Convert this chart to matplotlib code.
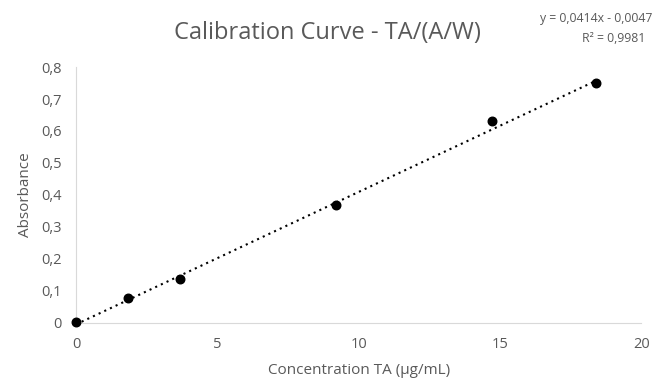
import matplotlib.pyplot as plt
import numpy as np

conc = np.array([0, 1.84, 3.68, 9.2, 14.72, 18.4])
absorb = np.array([0.003, 0.078, 0.138, 0.368, 0.631, 0.749])
slope = 0.0414
intercept = -0.0047
r2 = 0.9981

plt.rcParams['font.family'] = ['Open Sans', 'DejaVu Sans']
grey = "#595959"

fig = plt.figure(figsize=(6.58, 3.83), dpi=100)
ax = fig.add_axes([0.1155, 0.157, 0.859, 0.668])

# trendline from the fitted equation
xt = np.array([0, conc.max()])
ax.plot(xt, slope * xt + intercept, color="black", linestyle=(0, (1, 2)),
        linewidth=1.5, zorder=2)
ax.scatter(conc, absorb, s=38, color="black", zorder=3, clip_on=False)

ax.set_xlim(0, 20)
ax.set_ylim(0, 0.8)
ax.set_xticks([0, 5, 10, 15, 20])
ax.set_yticks(np.arange(0, 0.81, 0.1))
ax.set_yticklabels(["0" if v == 0 else f"{v:.1f}".replace(".", ",")
                    for v in np.arange(0, 0.81, 0.1)])
ax.tick_params(length=0, colors=grey, labelsize=10.5, pad=10)

for side in ["top", "right"]:
    ax.spines[side].set_visible(False)
for side in ["left", "bottom"]:
    ax.spines[side].set_color("#d9d9d9")

ax.set_xlabel("Concentration TA (µg/mL)", color=grey, fontsize=11, labelpad=8)
ax.set_ylabel("Absorbance", color=grey, fontsize=11, labelpad=6)

fig.text(0.497, 0.913, "Calibration Curve - TA/(A/W)", color=grey,
         fontsize=17, ha="center", va="center")
eq = f"y = {slope}x - {abs(intercept)}".replace(".", ",")
fig.text(0.906, 0.953, eq, color=grey, fontsize=8.8, ha="center", va="center")
fig.text(0.933, 0.9, f"R² = {r2}".replace(".", ","), color=grey,
         fontsize=8.8, ha="center", va="center")

fig.savefig("out.png", dpi=100)
